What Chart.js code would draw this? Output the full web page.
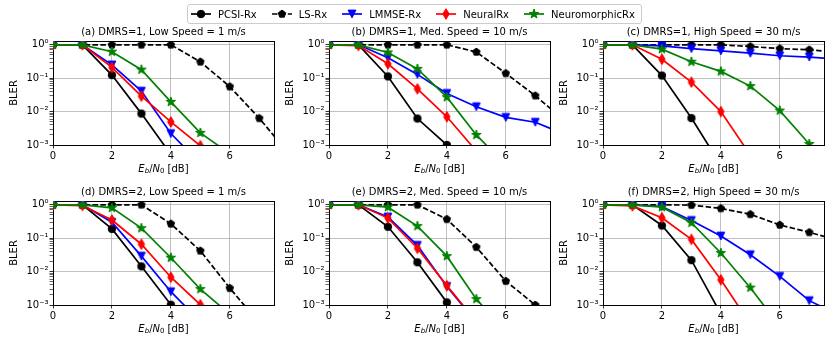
<!DOCTYPE html>
<html>
<head>
<meta charset="utf-8">
<script src="https://cdn.jsdelivr.net/npm/chart.js@4.4.1/dist/chart.umd.min.js"></script>
<style>
    html, body { margin: 0; padding: 0; background: #fff; }
    #wrap { position: relative; width: 835px; height: 348px; overflow: hidden; background: #fff; }
    canvas.panel { position: absolute; }
    #legend {
        position: absolute; left: 187px; top: 4px; height: 20px; box-sizing: border-box;
        border: 1px solid #cccccc; border-radius: 3px; background: rgba(255,255,255,0.8);
        display: flex; align-items: center; padding: 0 6px 0 3px; z-index: 5;
        font: 10px 'DejaVu Sans', sans-serif; color: #000; white-space: nowrap;
    }
    #legend .item { display: flex; align-items: center; margin-right: 15px; }
    #legend .item:last-child { margin-right: 0; }
    #legend canvas { margin-right: 7px; }
</style>
</head>
<body>
<div id="wrap">
    <div id="legend"></div>
</div>
<script>
// =====================================================
// DATA
// =====================================================
const ebn0 = [0, 1, 2, 3, 4, 5, 6, 7, 8];
const xTicks = [0, 2, 4, 6];
const yMajor = [1e-3, 1e-2, 1e-1, 1];
const yLabels = ['10\u207B\u00B3', '10\u207B\u00B2', '10\u207B\u00B9', '10\u2070'];
const receiverNames = ['PCSI-Rx', 'LS-Rx', 'LMMSE-Rx', 'NeuralRx', 'NeuromorphicRx'];
const panelTitles = [
    '(a) DMRS=1, Low Speed = 1 m/s',
    '(b) DMRS=1, Med. Speed = 10 m/s',
    '(c) DMRS=1, High Speed = 30 m/s',
    '(d) DMRS=2, Low Speed = 1 m/s',
    '(e) DMRS=2, Med. Speed = 10 m/s',
    '(f) DMRS=2, High Speed = 30 m/s'
];

// (a) DMRS=1, 1 m/s
const pcsiA   = [1, 1, 0.124, 0.0087, 5.2e-4];
const lsA     = [1, 1, 1, 1, 1, 0.31, 0.056, 0.0063, 5.6e-4];
const lmmseA  = [1, 1, 0.25, 0.041, 0.0022, 2.8e-4];
const neuralA = [1, 1, 0.21, 0.029, 0.0049, 9.5e-4];
const morphA  = [1, 1, 0.62, 0.18, 0.0195, 0.0023, 5.5e-4];

// (b) DMRS=1, 10 m/s
const pcsiB   = [1, 1, 0.113, 0.0062, 0.001];
const lsB     = [1, 1, 1, 1, 1, 0.61, 0.14, 0.030, 0.0053];
const lmmseB  = [1, 1, 0.41, 0.13, 0.035, 0.014, 0.0067, 0.0048, 0.0021];
const neuralB = [1, 0.95, 0.27, 0.048, 0.0070, 6.6e-4];
const morphB  = [1, 1, 0.59, 0.19, 0.027, 0.002, 2.5e-4];

// (c) DMRS=1, 30 m/s
const pcsiC   = [1, 1, 0.12, 0.0064, 2.5e-4];
const lsC     = [1, 1, 1, 1, 1, 0.89, 0.77, 0.71, 0.60];
const lmmseC  = [1, 1, 0.93, 0.77, 0.66, 0.56, 0.47, 0.43, 0.37];
const neuralC = [1, 1, 0.37, 0.076, 0.010, 5e-4];
const morphC  = [1, 1, 0.74, 0.31, 0.16, 0.058, 0.0107, 0.00107, 1.5e-4];

// (d) DMRS=2, 1 m/s
const pcsiD   = [1, 1, 0.19, 0.0144, 0.00102, 7e-5];
const lsD     = [1, 1, 1, 1, 0.27, 0.042, 0.0032, 2.9e-4];
const lmmseD  = [1, 1, 0.30, 0.029, 0.0025, 3.2e-4];
const neuralD = [1, 0.95, 0.35, 0.066, 0.0068, 0.00102];
const morphD  = [1, 1, 0.81, 0.20, 0.026, 0.003, 5.3e-4];

// (e) DMRS=2, 10 m/s
const pcsiE   = [1, 1, 0.22, 0.019, 0.0012, 1e-4];
const lsE     = [1, 1, 1, 1, 0.37, 0.054, 0.0052, 0.001, 1.5e-4];
const lmmseE  = [1, 1, 0.43, 0.061, 0.0036, 3e-4];
const neuralE = [1, 1, 0.40, 0.050, 0.0038, 3.2e-4];
const morphE  = [1, 1, 0.85, 0.23, 0.029, 0.0015, 1.6e-4];

// (f) DMRS=2, 30 m/s
const pcsiF   = [1, 1, 0.24, 0.022, 5.4e-4];
const lsF     = [1, 1, 1, 0.98, 0.78, 0.52, 0.25, 0.15, 0.085];
const lmmseF  = [1, 1, 0.89, 0.34, 0.116, 0.032, 0.0072, 0.00135, 5e-4];
const neuralF = [1, 0.93, 0.41, 0.092, 0.0057, 2.7e-4];
const morphF  = [1, 1, 0.85, 0.29, 0.036, 0.0033, 2.3e-4];

const panels = [
    [pcsiA, lsA, lmmseA, neuralA, morphA],
    [pcsiB, lsB, lmmseB, neuralB, morphB],
    [pcsiC, lsC, lmmseC, neuralC, morphC],
    [pcsiD, lsD, lmmseD, neuralD, morphD],
    [pcsiE, lsE, lmmseE, neuralE, morphE],
    [pcsiF, lsF, lmmseF, neuralF, morphF]
];

// =====================================================
// GLOBAL DEFAULT
// =====================================================
Chart.defaults.font.family = "'DejaVu Sans', sans-serif";
Chart.defaults.font.size = 10;
Chart.defaults.color = '#000';

const AX_LEFT = [53, 329, 603];
const AX_TOP = [41, 201];
const AX_W = 221, AX_H = 104;
const SIDE = 50, TOP = 24, BOTTOM = 32;

// matplotlib-like markers drawn on small canvases
function makeMarker(shape, color) {
    const c = document.createElement('canvas');
    c.width = 14; c.height = 14;
    const g = c.getContext('2d');
    g.translate(7, 7);
    g.beginPath();
    if (shape === 'circle') {
        g.arc(0, 0, 3.75, 0, Math.PI * 2);
    } else if (shape === 'pentagon') {
        for (let k = 0; k < 5; k++) {
            const a = -Math.PI / 2 + k * 2 * Math.PI / 5;
            g.lineTo(3.9 * Math.cos(a), 3.9 * Math.sin(a));
        }
    } else if (shape === 'triDown') {
        g.moveTo(0, 3.9); g.lineTo(-3.9, -3.9); g.lineTo(3.9, -3.9);
    } else if (shape === 'thinDiamond') {
        g.moveTo(0, -5.3); g.lineTo(3.2, 0); g.lineTo(0, 5.3); g.lineTo(-3.2, 0);
    } else if (shape === 'star') {
        for (let k = 0; k < 10; k++) {
            const a = -Math.PI / 2 + k * Math.PI / 5;
            const r = k % 2 === 0 ? 5 : 1.95;
            g.lineTo(r * Math.cos(a), r * Math.sin(a));
        }
    }
    g.closePath();
    g.fillStyle = color; g.fill();
    g.lineWidth = 1; g.strokeStyle = color; g.stroke();
    return c;
}

const styles = [
    { color: '#000000', marker: 'circle', dash: [] },
    { color: '#000000', marker: 'pentagon', dash: [5.5, 2.4] },
    { color: '#0000ff', marker: 'triDown', dash: [] },
    { color: '#ff0000', marker: 'thinDiamond', dash: [] },
    { color: '#008000', marker: 'star', dash: [] }
];
styles.forEach(s => { s.img = makeMarker(s.marker, s.color); });

// =====================================================
// LEGEND (shared, top)
// =====================================================
const legendBox = document.getElementById('legend');
receiverNames.forEach((name, k) => {
    const item = document.createElement('div');
    item.className = 'item';
    const h = document.createElement('canvas');
    h.width = 20; h.height = 14;
    const g = h.getContext('2d');
    g.strokeStyle = styles[k].color; g.lineWidth = 1.7;
    g.setLineDash(styles[k].dash);
    g.beginPath(); g.moveTo(0, 7); g.lineTo(20, 7); g.stroke();
    g.drawImage(styles[k].img, 3, 0);
    const t = document.createElement('span');
    t.textContent = name;
    item.appendChild(h); item.appendChild(t);
    legendBox.appendChild(item);
});

// =====================================================
// X LABEL  (E_b/N_0 [dB] with subscripts)
// =====================================================
const xLabelPlugin = {
    id: 'xLabel',
    afterDraw(chart) {
        const { ctx, chartArea } = chart;
        const fam = "'DejaVu Sans', sans-serif";
        const parts = [
            { t: 'E', f: 'italic 10px ' + fam, dy: 0 },
            { t: 'b', f: 'italic 7px ' + fam, dy: 2 },
            { t: '/', f: '10px ' + fam, dy: 0 },
            { t: 'N', f: 'italic 10px ' + fam, dy: 0 },
            { t: '0', f: '7px ' + fam, dy: 2 },
            { t: ' [dB]', f: '10px ' + fam, dy: 0 }
        ];
        ctx.save();
        ctx.fillStyle = '#000';
        ctx.textBaseline = 'middle';
        let w = 0;
        parts.forEach(p => { ctx.font = p.f; p.w = ctx.measureText(p.t).width; w += p.w; });
        let x = (chartArea.left + chartArea.right) / 2 - w / 2;
        const y = chartArea.bottom + 24;
        parts.forEach(p => { ctx.font = p.f; ctx.fillText(p.t, x, y + p.dy); x += p.w; });
        ctx.restore();
    }
};

const isMajor = v => yMajor.some(m => Math.abs(Math.log10(v) - Math.log10(m)) < 1e-6);
const yTickValues = [];
yMajor.forEach((m, i) => {
    yTickValues.push(m);
    if (i < yMajor.length - 1) for (let k = 2; k <= 9; k++) yTickValues.push(m * k);
});

// =====================================================
// PANELS
// =====================================================
const wrap = document.getElementById('wrap');

panels.forEach((series, idx) => {
    const col = idx % 3, row = Math.floor(idx / 3);
    const canvas = document.createElement('canvas');
    canvas.className = 'panel';
    canvas.width = SIDE + AX_W + SIDE;
    canvas.height = TOP + AX_H + BOTTOM;
    canvas.style.left = (AX_LEFT[col] - SIDE) + 'px';
    canvas.style.top = (AX_TOP[row] - TOP) + 'px';
    wrap.appendChild(canvas);

    new Chart(canvas, {
        type: 'line',
        data: {
            datasets: series.map((vals, k) => ({
                label: receiverNames[k],
                data: vals.map((v, i) => ({ x: ebn0[i], y: v })),
                borderColor: styles[k].color,
                backgroundColor: styles[k].color,
                borderWidth: 1.7,
                borderDash: styles[k].dash,
                pointStyle: styles[k].img,
                pointRadius: 4,
                pointHoverRadius: 4,
                tension: 0,
                clip: 0,
                order: 5 - k
            }))
        },
        options: {
            responsive: false,
            animation: false,
            events: [],
            layout: { padding: 0 },
            plugins: {
                legend: { display: false },
                tooltip: { enabled: false },
                title: {
                    display: true,
                    text: panelTitles[idx],
                    color: '#000',
                    font: { size: 10, weight: 'normal' },
                    padding: { top: 9, bottom: 3 }
                }
            },
            scales: {
                x: {
                    type: 'linear', position: 'bottom', min: 0, max: 7.5,
                    afterFit: s => { s.height = BOTTOM; },
                    afterBuildTicks: s => { s.ticks = xTicks.map(v => ({ value: v })); },
                    ticks: { color: '#000', padding: 2, maxRotation: 0, callback: v => String(v) },
                    grid: { color: '#b0b0b0', lineWidth: 0.8, tickLength: 3.5, tickColor: '#000', tickWidth: 0.8 },
                    border: { color: '#000', width: 1 }
                },
                y: {
                    type: 'logarithmic', position: 'left', min: 1e-3, max: 1.3,
                    afterFit: s => { s.width = SIDE; },
                    afterBuildTicks: s => { s.ticks = yTickValues.map(v => ({ value: v, major: isMajor(v) })); },
                    ticks: {
                        autoSkip: false, color: '#000', padding: 1,
                        callback: v => {
                            const i = yMajor.findIndex(m => Math.abs(Math.log10(v) - Math.log10(m)) < 1e-6);
                            return i >= 0 ? yLabels[i] : '';
                        }
                    },
                    grid: {
                        color: c => (c.tick && isMajor(c.tick.value)) ? '#b0b0b0' : 'rgba(0,0,0,0)',
                        lineWidth: 0.8, tickLength: 3.5, tickColor: '#000',
                        tickWidth: c => (c.tick && isMajor(c.tick.value)) ? 0.8 : 0.6
                    },
                    border: { color: '#000', width: 1 },
                    title: { display: true, text: 'BLER', color: '#000', font: { size: 10 }, padding: { top: 5, bottom: 0 } }
                },
                x2: {
                    axis: 'x', type: 'linear', position: 'top', min: 0, max: 1,
                    afterFit: s => { s.height = 0; },
                    ticks: { display: false },
                    grid: { drawOnChartArea: false, drawTicks: false },
                    border: { color: '#000', width: 1 }
                },
                y2: {
                    axis: 'y', type: 'linear', position: 'right', min: 0, max: 1,
                    afterFit: s => { s.width = SIDE; },
                    ticks: { display: false },
                    grid: { drawOnChartArea: false, drawTicks: false },
                    border: { color: '#000', width: 1 }
                }
            }
        },
        plugins: [xLabelPlugin]
    });
});
</script>
</body>
</html>
